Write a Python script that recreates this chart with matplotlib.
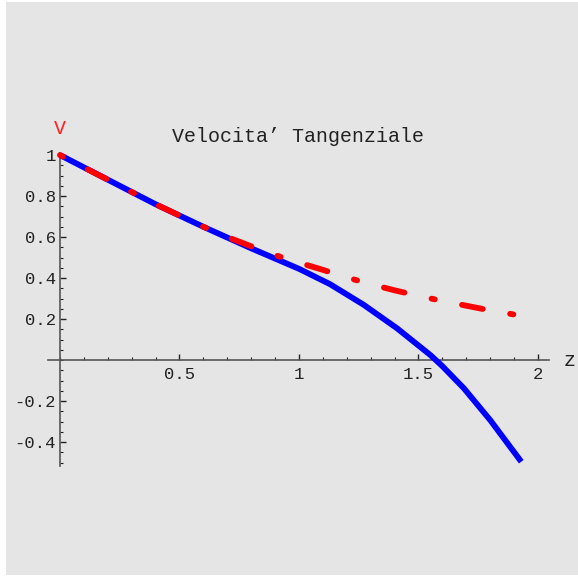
import matplotlib
matplotlib.use("Agg")
import matplotlib.pyplot as plt
from matplotlib.patches import Rectangle
from matplotlib.ticker import MultipleLocator, FixedLocator

# values
z_blue = [0, 0.2, 0.4, 0.6, 0.8, 1.0, 1.13, 1.27, 1.41, 1.55, 1.6, 1.69, 1.8, 1.93]
v_blue = [1.0, 0.88, 0.76, 0.65, 0.545, 0.445, 0.37, 0.27, 0.155, 0.024, -0.03, -0.138, -0.293, -0.496]

z_red = [0, 0.2, 0.4, 0.6, 0.7, 0.8, 0.9, 1.0, 1.1, 1.2, 1.3, 1.4, 1.5, 1.6, 1.7, 1.8, 1.93]
v_red = [1.0, 0.88, 0.76, 0.65, 0.60, 0.555, 0.512, 0.475, 0.44, 0.403, 0.37, 0.34, 0.313, 0.288, 0.265, 0.242, 0.216]

x_ticks = [0.5, 1, 1.5, 2]
x_tick_labels = ["0.5", "1", "1.5", "2"]
y_ticks = [-0.4, -0.2, 0.2, 0.4, 0.6, 0.8, 1]
y_tick_labels = ["-0.4", "-0.2", "0.2", "0.4", "0.6", "0.8", "1"]

title = "Velocita\u2019 Tangenziale"

plt.rcParams["lines.scale_dashes"] = False
mono = "Liberation Mono"

fig = plt.figure(figsize=(5.78, 5.77), dpi=100, facecolor="white")
fig.patches.append(Rectangle((6 / 578, 2 / 577), 1, 573 / 577, transform=fig.transFigure,
                             facecolor="#e5e5e5", edgecolor="none", zorder=-10))

ax = fig.add_axes([48 / 578, 111.4 / 577, 501 / 578, 312.6 / 577])
ax.set_facecolor("none")
ax.set_xlim(-0.05, 2.046)
ax.set_ylim(-0.515, 1.01)

ax.plot(z_blue, v_blue, color="#0000ff", lw=4.2, solid_capstyle="butt",
        solid_joinstyle="round", zorder=3, clip_on=False)
ax.plot(z_red, v_red, color="#ff0000", lw=4.2, dash_capstyle="round",
        linestyle=(0, (2.4, 20.0, 15.2, 20.0)), zorder=4, clip_on=False)

for side in ["top", "right"]:
    ax.spines[side].set_visible(False)
ax.spines["left"].set_position(("data", 0))
ax.spines["bottom"].set_position(("data", 0))
for side in ["left", "bottom"]:
    ax.spines[side].set_color("#555555")
    ax.spines[side].set_linewidth(1.2)

ax.xaxis.set_major_locator(FixedLocator(x_ticks))
ax.xaxis.set_minor_locator(MultipleLocator(0.1))
ax.yaxis.set_major_locator(FixedLocator(y_ticks))
ax.yaxis.set_minor_locator(MultipleLocator(0.05))
ax.set_xticklabels(x_tick_labels, fontfamily=mono, fontsize=12.4)
ax.set_yticklabels(y_tick_labels, fontfamily=mono, fontsize=12.4)
ax.tick_params(which="both", colors="#222222")
ax.tick_params(axis="x", which="major", direction="in", length=4, width=1, pad=5)
ax.tick_params(axis="x", which="minor", direction="in", length=2.2, width=0.8)
ax.tick_params(axis="y", which="major", direction="in", length=4, width=1, pad=3)
ax.tick_params(axis="y", which="minor", direction="in", length=2.2, width=0.8)

ax.text(0.5, 1.054, title, transform=ax.transAxes, ha="center", va="center",
        fontfamily=mono, fontsize=14.4, color="#222222")
ax.text(0, 1.077, "V", ha="center", va="center", fontfamily=mono, fontsize=14.4,
        color="#ff2020", transform=ax.get_xaxis_transform())
ax.text(2.134, 0, "z", ha="center", va="center", fontfamily=mono, fontsize=14.4, color="#222222")

fig.savefig("out.png", dpi=100, facecolor="white")
